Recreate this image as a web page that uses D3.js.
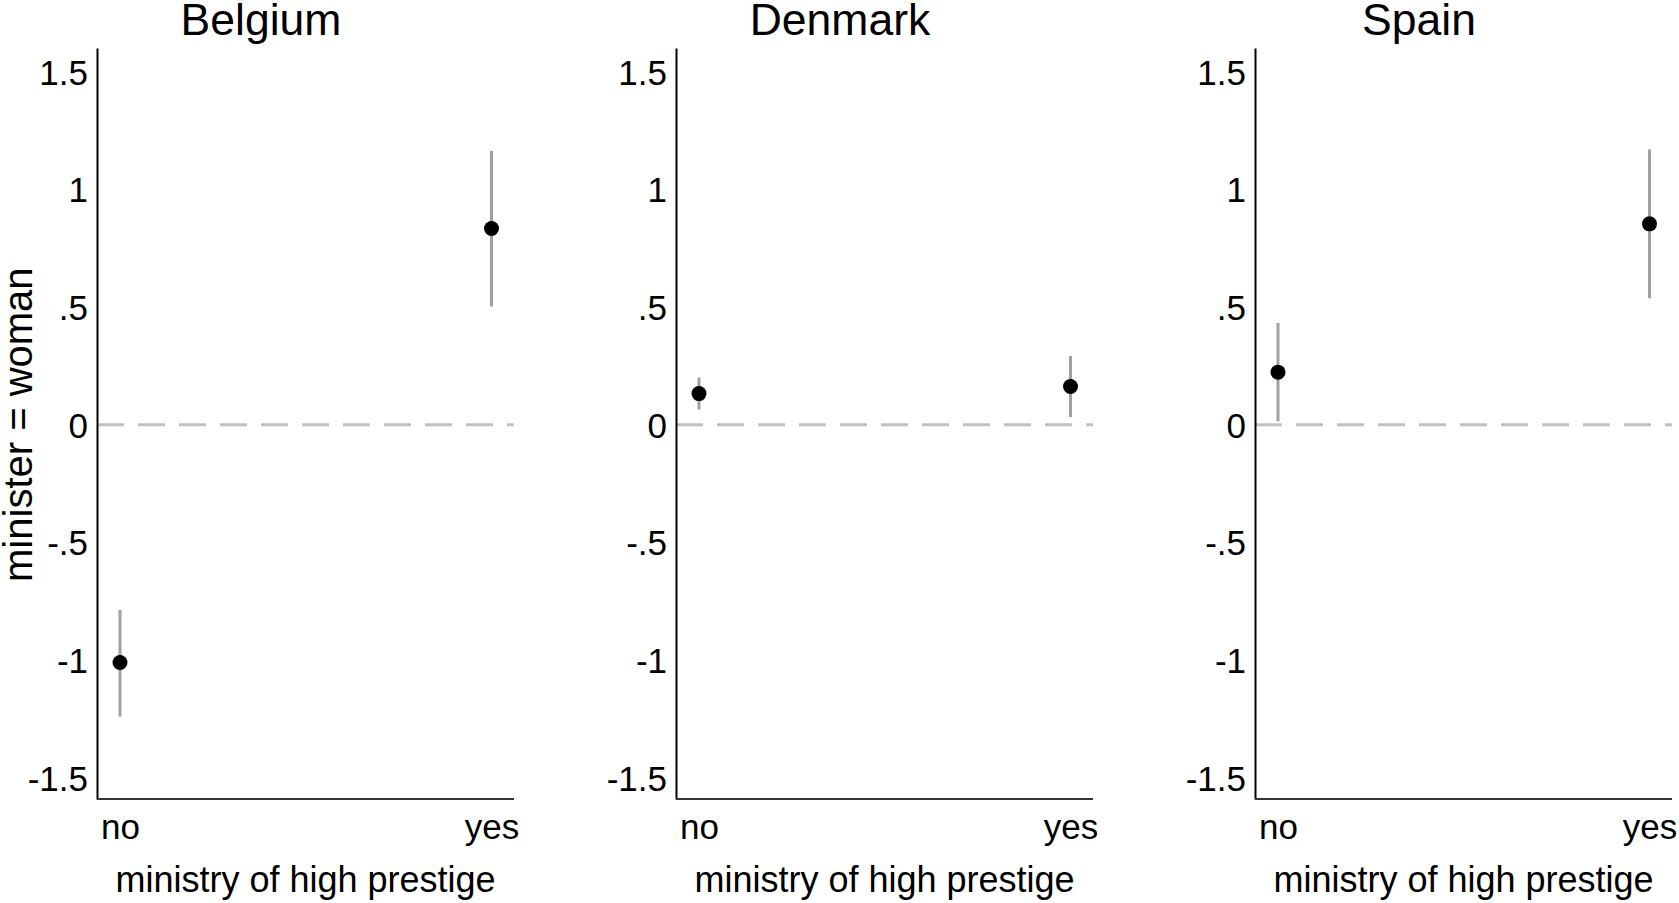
<!DOCTYPE html>
<meta charset="utf-8">
<script src="https://d3js.org/d3.v7.min.js"></script>
<style>
  body { margin: 0; background: #fff; }
  text { font-family: "Liberation Sans", Arial, sans-serif; fill: #000; }
</style>
<div id="my_dataviz"></div>
<script>

// panels and categories
var countries = ["Belgium", "Denmark", "Spain"];
var categories = ["no", "yes"];

// point estimates and confidence bounds, one value per category
var estimate = {
  Belgium: [-1.01, 0.833],
  Denmark: [0.132, 0.162],
  Spain:   [0.223, 0.853]
};
var lower = {
  Belgium: [-1.24, 0.502],
  Denmark: [0.064, 0.032],
  Spain:   [0.014, 0.537]
};
var upper = {
  Belgium: [-0.787, 1.163],
  Denmark: [0.200, 0.292],
  Spain:   [0.432, 1.169]
};

var yTicks = [1.5, 1, 0.5, 0, -0.5, -1, -1.5];
var yTickLabels = ["1.5", "1", ".5", "0", "-.5", "-1", "-1.5"];

// layout
var W = 1679, H = 903;
var panelStep = 579,
    left0 = 97,
    marginTop = 48,
    width = 417,
    height = 751;

var svg = d3.select("#my_dataviz")
  .append("svg")
    .attr("width", W)
    .attr("height", H);

var x = d3.scalePoint()
  .domain(categories)
  .range([23, 394.5]);

var y = d3.scaleLinear()
  .domain([-1.59, 1.6])
  .range([height, 0]);

countries.forEach(function(c, i) {
  var g = svg.append("g")
    .attr("transform", "translate(" + (left0 + i * panelStep) + "," + marginTop + ")");

  // title
  g.append("text")
    .attr("x", 164)
    .attr("y", -13)
    .attr("text-anchor", "middle")
    .style("font-size", "44.5px")
    .text(c);

  // reference line at zero
  g.append("line")
    .attr("x1", 0).attr("x2", width)
    .attr("y1", y(0)).attr("y2", y(0))
    .attr("stroke", "#c0c0c0")
    .attr("stroke-width", 3)
    .attr("stroke-dasharray", "27,14");

  // y axis
  var ya = g.append("g")
    .call(d3.axisLeft(y).tickValues(yTicks).tickSize(0).tickPadding(9)
      .tickFormat(function(d, j) { return yTickLabels[j]; }));
  ya.select(".domain").attr("stroke", "#000").attr("stroke-width", 2);
  ya.selectAll("text")
    .style("font-size", "35px")
    .style("font-family", "'Liberation Sans', Arial, sans-serif")
    .attr("dy", "0.36em");

  // x axis
  var xa = g.append("g")
    .attr("transform", "translate(0," + height + ")")
    .call(d3.axisBottom(x).tickSize(0).tickPadding(0));
  xa.select(".domain").attr("d", "M0,0H" + width).attr("stroke", "#333").attr("stroke-width", 2);
  xa.selectAll("text")
    .style("font-size", "35px")
    .style("font-family", "'Liberation Sans', Arial, sans-serif")
    .attr("y", 40)
    .attr("dy", 0);

  // x axis title
  g.append("text")
    .attr("x", width / 2)
    .attr("y", 844)
    .attr("text-anchor", "middle")
    .style("font-size", "36px")
    .text("ministry of high prestige");

  var rows = categories.map(function(k, j) {
    return {cat: k, est: estimate[c][j], lo: lower[c][j], hi: upper[c][j]};
  });

  // confidence intervals
  g.selectAll(".ci")
    .data(rows)
    .enter()
    .append("line")
      .attr("class", "ci")
      .attr("x1", function(d) { return x(d.cat); })
      .attr("x2", function(d) { return x(d.cat); })
      .attr("y1", function(d) { return y(d.lo); })
      .attr("y2", function(d) { return y(d.hi); })
      .attr("stroke", "#a0a0a0")
      .attr("stroke-width", 3);

  // points
  g.selectAll(".pt")
    .data(rows)
    .enter()
    .append("circle")
      .attr("class", "pt")
      .attr("cx", function(d) { return x(d.cat); })
      .attr("cy", function(d) { return y(d.est); })
      .attr("r", 7.5)
      .attr("fill", "#000");

  // y axis title on the first panel only
  if (i == 0) {
    g.append("text")
      .attr("transform", "translate(" + (32 - left0) + "," + y(0) + ") rotate(-90)")
      .attr("text-anchor", "middle")
      .style("font-size", "40px")
      .text("minister = woman");
  }
});

</script>
